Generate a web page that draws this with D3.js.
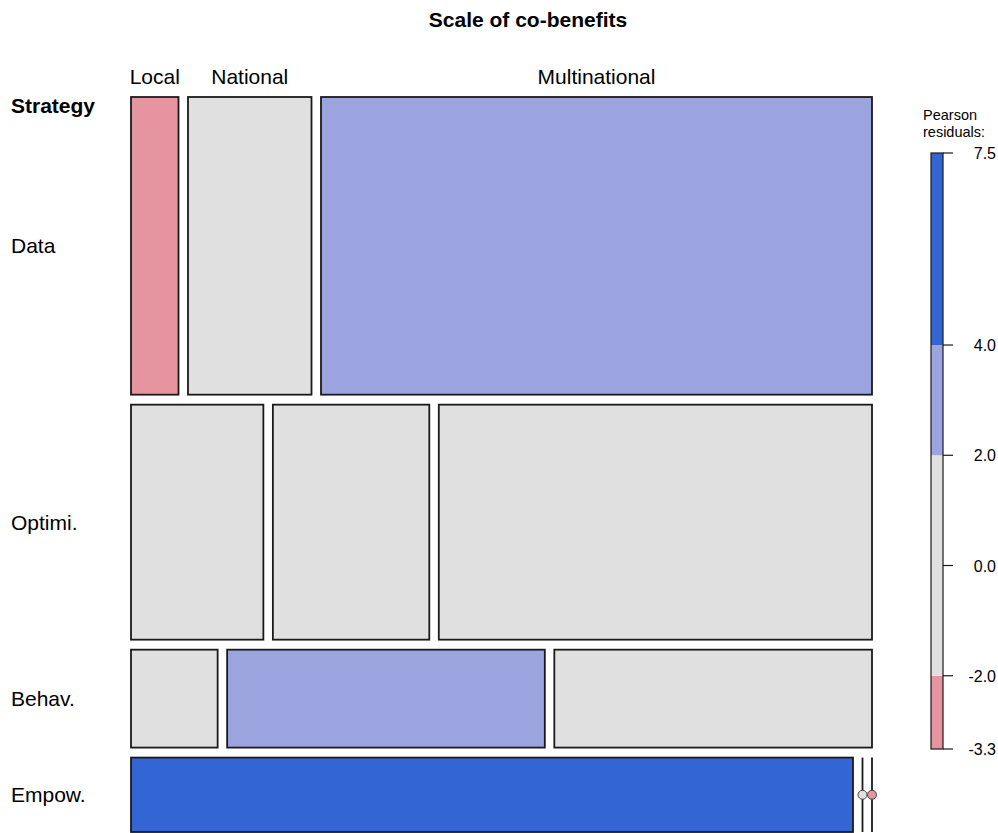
<!DOCTYPE html>
<html>
<head>
<meta charset="utf-8">
<script src="https://cdn.jsdelivr.net/npm/d3@7"></script>
<style>
  body { margin: 0; background: #fff; }
  svg text { font-family: "Liberation Sans", Arial, sans-serif; fill: #000; }
</style>
</head>
<body>
<svg id="chart" width="998" height="833"></svg>
<script>
// counts (rows = Strategy, cols = Scale of co-benefits)
const strategies = ['Data', 'Optimi.', 'Behav.', 'Empow.'];
const scales = ['Local', 'National', 'Multinational'];
const countsData = [5, 13, 58];
const countsOptimi = [11, 13, 36];
const countsBehav = [3, 11, 11];
const countsEmpow = [19, 0, 0];
const residualBreaks = [-4, -2, 2, 4];
const legendTicks = [-2, 0, 2, 4];

const table = [countsData, countsOptimi, countsBehav, countsEmpow];

const svg = d3.select('#chart');

// plot area
const plotL = 131, plotR = 872, plotT = 97, plotB = 832;
const gapX = 9.5, gapY = 10;

const rowTot = table.map(r => d3.sum(r));
const colTot = scales.map((c, j) => d3.sum(table, r => r[j]));
const N = d3.sum(rowTot);

// pearson residuals
const resid = table.map((r, i) => r.map((v, j) => {
  let e = rowTot[i] * colTot[j] / N;
  return (v - e) / Math.sqrt(e);
}));

const color = d3.scaleThreshold()
  .domain(residualBreaks)
  .range(['#C2646F', '#E6949F', '#E0E0E0', '#9CA4E0', '#3366D4']);

const availH = (plotB - plotT) - gapY * (strategies.length - 1);
const availW = (plotR - plotL) - gapX * (scales.length - 1);
const yProp = d3.scaleLinear().domain([0, 1]).range([0, availH]);
const xProp = d3.scaleLinear().domain([0, 1]).range([0, availW]);

// build cells
let cells = [];
let cumRow = 0;
table.forEach((r, i) => {
  let y0 = plotT + yProp(cumRow / N) + i * gapY;
  let h = yProp(rowTot[i] / N);
  let cumCol = 0;
  r.forEach((v, j) => {
    let x0 = plotL + xProp(cumCol / rowTot[i]) + j * gapX;
    let w = xProp(v / rowTot[i]);
    cells.push({ i: i, j: j, v: v, x: x0, y: y0, w: w, h: h, r: resid[i][j] });
    cumCol += v;
  });
  cumRow += rowTot[i];
});

// title
svg.append('text')
  .attr('x', 528).attr('y', 27)
  .attr('text-anchor', 'middle')
  .attr('font-size', 21).attr('font-weight', 'bold')
  .text('Scale of co-benefits');

// mosaic tiles
svg.append('g').selectAll('rect')
  .data(cells.filter(d => d.v > 0))
  .enter().append('rect')
    .attr('x', d => d.x)
    .attr('y', d => d.y)
    .attr('width', d => d.w)
    .attr('height', d => d.h)
    .attr('fill', d => color(d.r))
    .attr('stroke', '#1a1a1a')
    .attr('stroke-width', 1.8);

// empty cells: line + dot
let zeros = svg.append('g').selectAll('g')
  .data(cells.filter(d => d.v === 0))
  .enter().append('g');
zeros.append('line')
  .attr('x1', d => d.x).attr('x2', d => d.x)
  .attr('y1', d => d.y).attr('y2', d => d.y + d.h)
  .attr('stroke', '#1a1a1a').attr('stroke-width', 1.8);
zeros.append('circle')
  .attr('cx', d => d.x).attr('cy', d => d.y + d.h / 2)
  .attr('r', 4.5)
  .attr('fill', d => color(d.r))
  .attr('stroke', '#444').attr('stroke-width', 1);

// top labels (from first row)
svg.append('g').selectAll('text')
  .data(cells.filter(d => d.i === 0))
  .enter().append('text')
    .attr('x', d => d.x + d.w / 2)
    .attr('y', 84)
    .attr('text-anchor', 'middle')
    .attr('font-size', 21)
    .text(d => scales[d.j]);

// left labels
svg.append('text')
  .attr('x', 11).attr('y', 113)
  .attr('font-size', 21).attr('font-weight', 'bold')
  .text('Strategy');

svg.append('g').selectAll('text')
  .data(cells.filter(d => d.j === 0))
  .enter().append('text')
    .attr('x', 11)
    .attr('y', d => d.y + d.h / 2 + 7.5)
    .attr('font-size', 21)
    .text(d => strategies[d.i]);

// legend
const allRes = resid.flat();
const rMin = d3.min(allRes), rMax = d3.max(allRes);
const ly = d3.scaleLinear().domain([rMin, rMax]).range([749, 153]);
const lx0 = 931, lw = 12;

let bands = [rMin].concat(residualBreaks.filter(b => b > rMin && b < rMax)).concat([rMax]);
let lg = svg.append('g');
lg.selectAll('rect')
  .data(d3.pairs(bands))
  .enter().append('rect')
    .attr('x', lx0)
    .attr('y', d => ly(d[1]))
    .attr('width', lw)
    .attr('height', d => ly(d[0]) - ly(d[1]))
    .attr('fill', d => color((d[0] + d[1]) / 2));
lg.append('rect')
  .attr('x', lx0).attr('y', ly(rMax))
  .attr('width', lw).attr('height', ly(rMin) - ly(rMax))
  .attr('fill', 'none').attr('stroke', '#1a1a1a').attr('stroke-width', 1.2);

let tickVals = [rMin].concat(legendTicks).concat([rMax]);
lg.selectAll('line.tick')
  .data(tickVals)
  .enter().append('line')
    .attr('class', 'tick')
    .attr('x1', lx0 + lw).attr('x2', lx0 + lw + 10)
    .attr('y1', d => ly(d)).attr('y2', d => ly(d))
    .attr('stroke', '#1a1a1a').attr('stroke-width', 1.2);
lg.selectAll('text.tl')
  .data(tickVals)
  .enter().append('text')
    .attr('class', 'tl')
    .attr('x', 996)
    .attr('y', d => ly(d) + 6)
    .attr('text-anchor', 'end')
    .attr('font-size', 16)
    .attr('fill', '#222')
    .text(d => d.toFixed(1));

// legend title on two lines
let lt = lg.append('text')
  .attr('x', 923).attr('y', 120)
  .attr('font-size', 14.5);
lt.append('tspan').attr('x', 923).text('Pearson');
lt.append('tspan').attr('x', 923).attr('dy', 16.5).text('residuals:');
</script>
</body>
</html>
